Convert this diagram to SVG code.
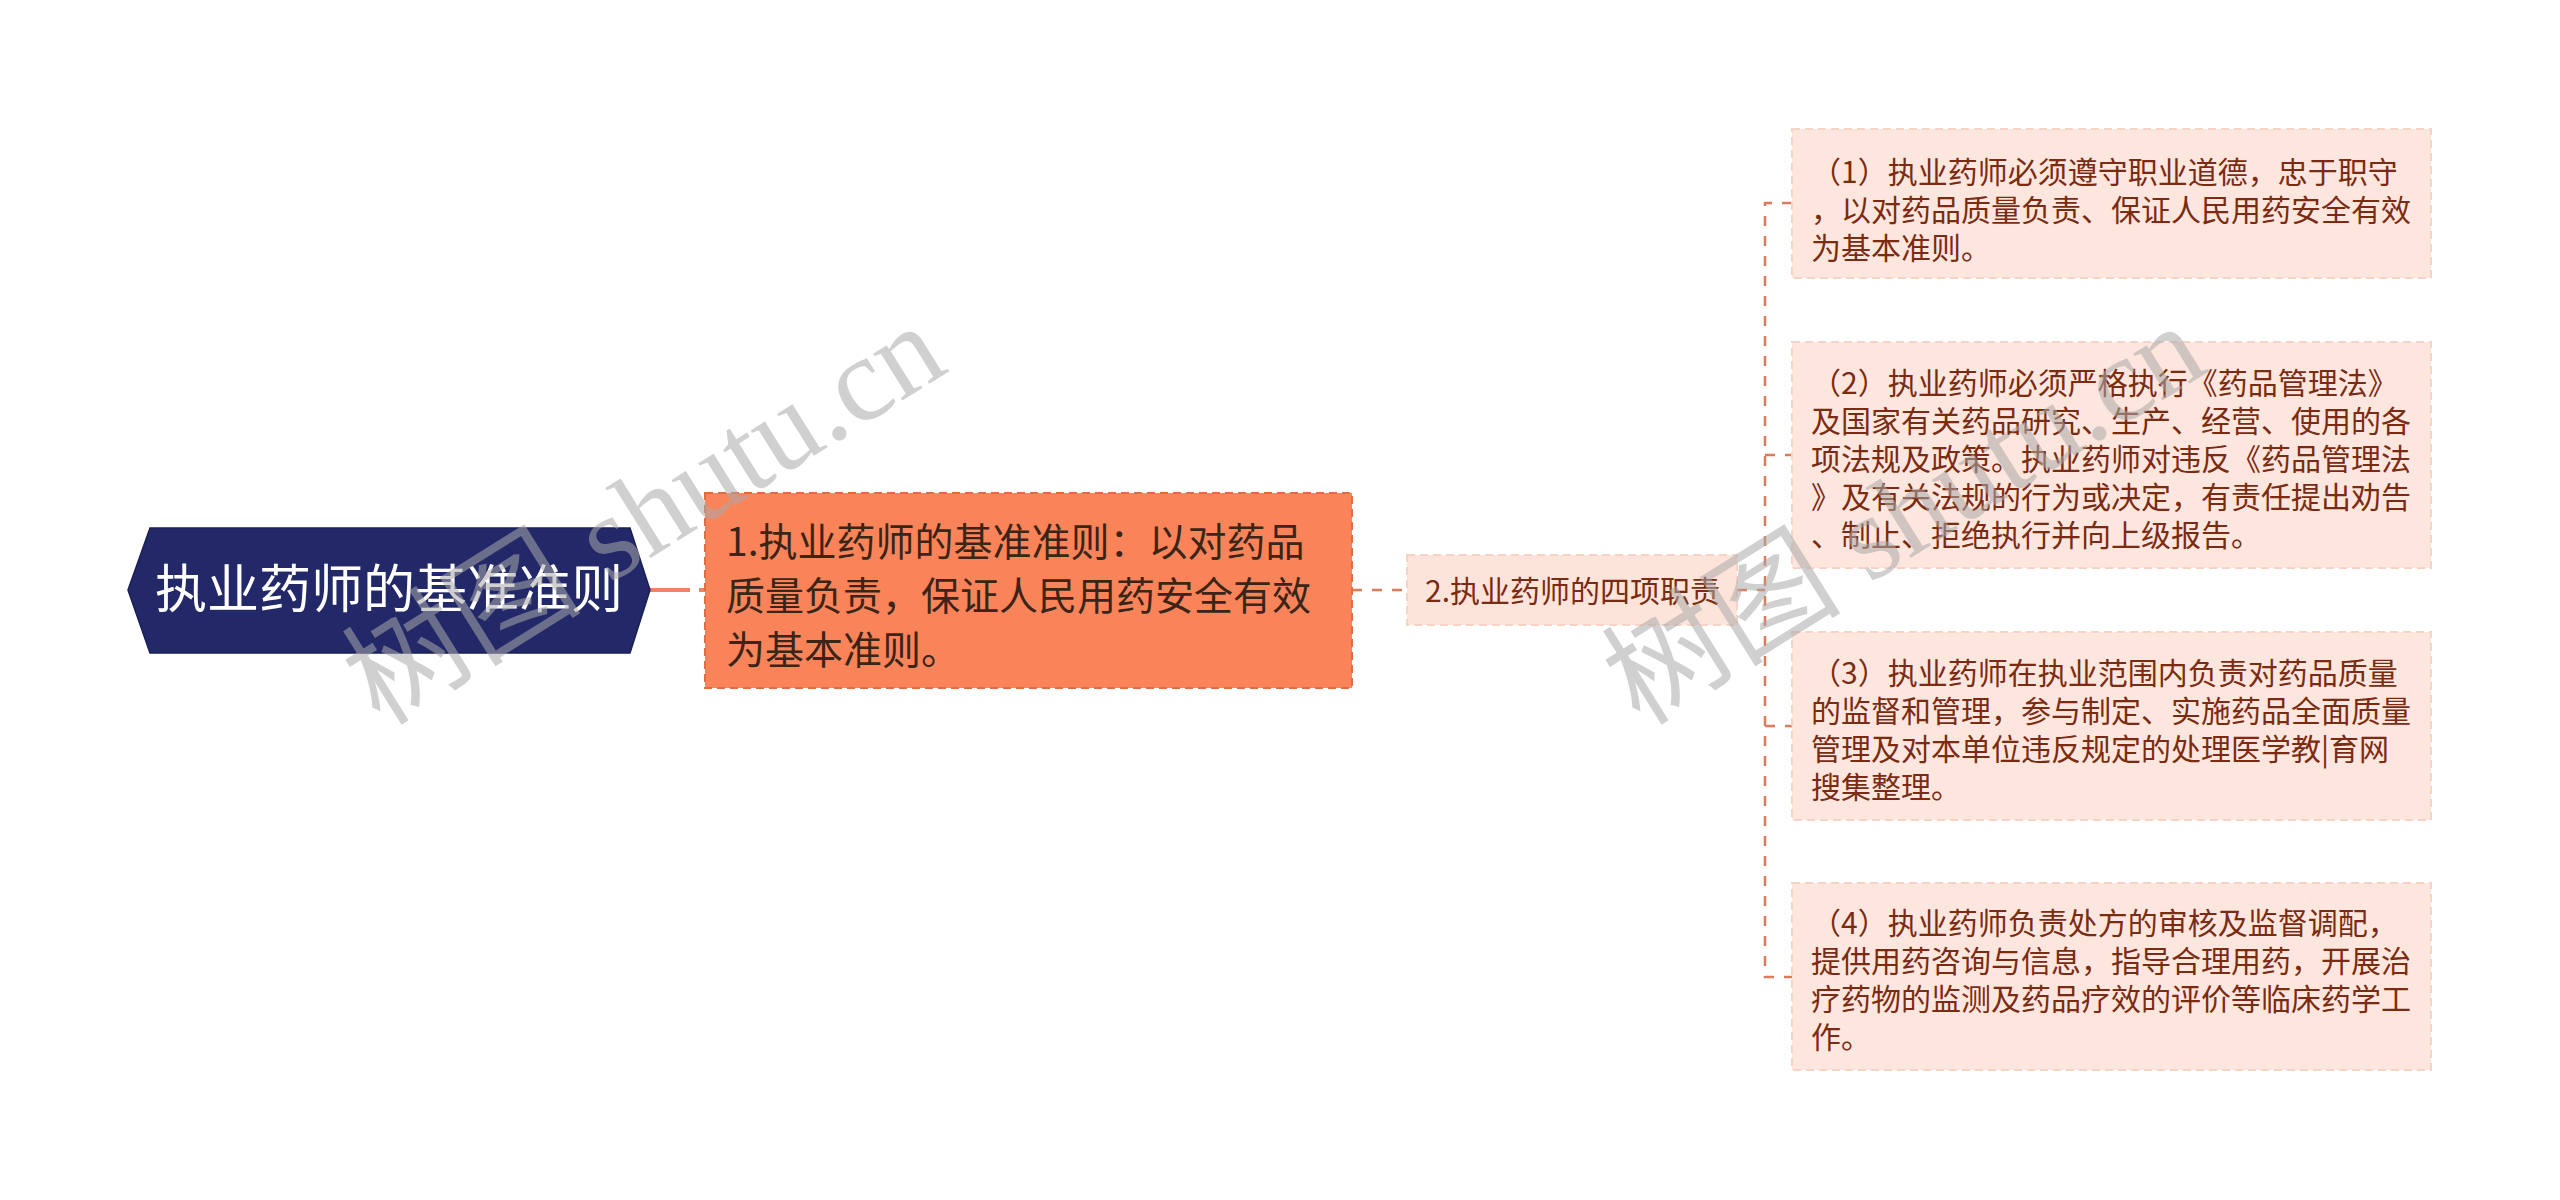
<svg xmlns="http://www.w3.org/2000/svg" width="2560" height="1200" viewBox="0 0 2560 1200">
<style>
  text { font-family: "Noto Sans CJK SC", "Noto Sans", sans-serif; }
  .root-t { fill: #ffffff; font-size: 52px; }
  .n1-t { fill: #3b2418; font-size: 39px; }
  .n2-t { fill: #7a2b12; font-size: 30px; }
  .leaf-t { fill: #7a2b12; font-size: 30px; }
  .leaf { fill: #fde6dd; stroke: #f7d3c5; stroke-width: 2; stroke-dasharray: 8 5; }
  .conn { fill: none; stroke: #e07a58; stroke-width: 2.5; stroke-dasharray: 10 10; }
  .wm { font-family: "Liberation Serif", "Noto Sans CJK SC", serif; font-size: 120px; fill: #aaaaaa; opacity: 0.55; }
</style>
<rect width="2560" height="1200" fill="#ffffff"/>
<g id="connectors">
  <line x1="650" y1="590" x2="705" y2="590" stroke="#f08460" stroke-width="4" stroke-dasharray="40 9"/>
  <line class="conn" x1="1352" y1="590" x2="1407" y2="590"/>
  <line class="conn" x1="1737" y1="590" x2="1765" y2="590"/>
  <path class="conn" d="M1792,203 H1765 V977 H1792"/>
  <line class="conn" x1="1765" y1="455" x2="1792" y2="455"/>
  <line class="conn" x1="1765" y1="726" x2="1792" y2="726"/>
</g>
<g id="root">
  <polygon points="128,590 150,528 630,528 650,590 630,653 150,653" fill="#222868" stroke="#1a1f55" stroke-width="1.5"/>
  <text class="root-t" x="389" y="608" text-anchor="middle">执业药师的基准准则</text>
</g>
<g id="node1">
  <rect x="705" y="493" width="647" height="195" fill="#f9845a" stroke="#e06c44" stroke-width="2" stroke-dasharray="8 5"/>
  <text class="n1-t" x="726" y="556">1.执业药师的基准准则：以对药品</text>
  <text class="n1-t" x="726" y="610">质量负责，保证人民用药安全有效</text>
  <text class="n1-t" x="726" y="664">为基本准则。</text>
</g>
<g id="node2">
  <rect x="1407" y="555" width="330" height="70" fill="#fde4da" stroke="#f7d3c5" stroke-width="2" stroke-dasharray="8 5"/>
  <text class="n2-t" x="1425" y="602">2.执业药师的四项职责</text>
</g>
<g id="leaf1">
  <rect class="leaf" x="1792" y="129" width="639" height="149"/>
  <text class="leaf-t" x="1811" y="183">（1）执业药师必须遵守职业道德，忠于职守</text>
  <text class="leaf-t" x="1811" y="221">，以对药品质量负责、保证人民用药安全有效</text>
  <text class="leaf-t" x="1811" y="259">为基本准则。</text>
</g>
<g id="leaf2">
  <rect class="leaf" x="1792" y="342" width="639" height="226"/>
  <text class="leaf-t" x="1811" y="394">（2）执业药师必须严格执行《药品管理法》</text>
  <text class="leaf-t" x="1811" y="432">及国家有关药品研究、生产、经营、使用的各</text>
  <text class="leaf-t" x="1811" y="470">项法规及政策。执业药师对违反《药品管理法</text>
  <text class="leaf-t" x="1811" y="508">》及有关法规的行为或决定，有责任提出劝告</text>
  <text class="leaf-t" x="1811" y="546">、制止、拒绝执行并向上级报告。</text>
</g>
<g id="leaf3">
  <rect class="leaf" x="1792" y="632" width="639" height="188"/>
  <text class="leaf-t" x="1811" y="684">（3）执业药师在执业范围内负责对药品质量</text>
  <text class="leaf-t" x="1811" y="722">的监督和管理，参与制定、实施药品全面质量</text>
  <text class="leaf-t" x="1811" y="760">管理及对本单位违反规定的处理医学教|育网</text>
  <text class="leaf-t" x="1811" y="798">搜集整理。</text>
</g>
<g id="leaf4">
  <rect class="leaf" x="1792" y="883" width="639" height="187"/>
  <text class="leaf-t" x="1811" y="934">（4）执业药师负责处方的审核及监督调配，</text>
  <text class="leaf-t" x="1811" y="972">提供用药咨询与信息，指导合理用药，开展治</text>
  <text class="leaf-t" x="1811" y="1010">疗药物的监测及药品疗效的评价等临床药学工</text>
  <text class="leaf-t" x="1811" y="1048">作。</text>
</g>
<g id="watermark">
  <text class="wm" transform="translate(380,727) rotate(-32)">树图 shutu.cn</text>
  <text class="wm" transform="translate(1640,727) rotate(-32)">树图 shutu.cn</text>
</g>
</svg>
